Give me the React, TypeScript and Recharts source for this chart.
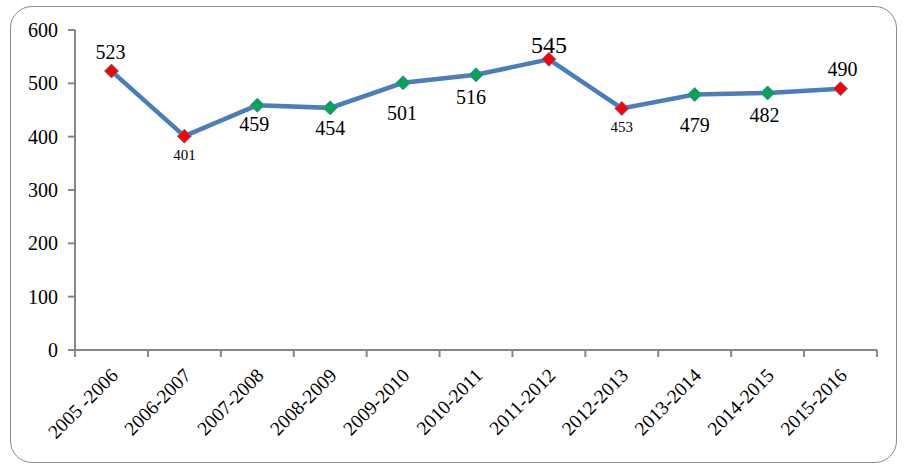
import React from "react";
import { LineChart, Line, XAxis, YAxis, LabelList } from "recharts";

// ─── Data ──────────────────────────────────────────────────────────────────────
const YEARS = [
  "2005 -2006",
  "2006-2007",
  "2007-2008",
  "2008-2009",
  "2009-2010",
  "2010-2011",
  "2011-2012",
  "2012-2013",
  "2013-2014",
  "2014-2015",
  "2015-2016",
];
const VALUES = [523, 401, 459, 454, 501, 516, 545, 453, 479, 482, 490];
// years drawn with a red marker, the rest are green
const FLAGGED = ["2005 -2006", "2006-2007", "2011-2012", "2012-2013", "2015-2016"];
const Y_TICKS = [0, 100, 200, 300, 400, 500, 600];

const data = YEARS.map((year, i) => ({ year, value: VALUES[i], idx: i }));
// tick marks sit between categories (Excel "between tick marks" style)
const boundaryTicks = YEARS.map((_, i) => i - 0.5).concat(YEARS.length - 0.5);

// ─── Styling ───────────────────────────────────────────────────────────────────
const FONT = "Liberation Serif";
const LINE_BLUE = "#4A7EBB";
const AXIS_GREY = "#868686";
const HALF_BAND = 36.5;

// label placement per point: dy from the point, dx, font size
const LABEL_STYLE = [
  { dy: -12, dx: -1, size: 20 },
  { dy: 24, dx: 0, size: 15 },
  { dy: 26, dx: -3, size: 20 },
  { dy: 27, dx: 0, size: 20 },
  { dy: 37, dx: -1, size: 20 },
  { dy: 29, dx: -5, size: 20 },
  { dy: -6, dx: 0, size: 24 },
  { dy: 24, dx: 0, size: 15 },
  { dy: 37, dx: 0, size: 20 },
  { dy: 29, dx: -3, size: 20 },
  { dy: -13, dx: 2, size: 20 },
];

const Diamond = (props: any) => {
  const { cx, cy, payload, index } = props;
  if (cx == null || cy == null) return null;
  const r = 7;
  const fill = FLAGGED.includes(payload.year) ? "#FF0000" : "#00A651";
  return (
    <polygon
      key={`d-${index}`}
      points={`${cx},${cy - r} ${cx + r},${cy} ${cx},${cy + r} ${cx - r},${cy}`}
      fill={fill}
      stroke={LINE_BLUE}
      strokeWidth={1}
    />
  );
};

const ValueLabel = (props: any) => {
  const { x, y, value, index } = props;
  const s = LABEL_STYLE[index];
  return (
    <text
      x={x + s.dx}
      y={y + s.dy}
      textAnchor="middle"
      fontFamily={FONT}
      fontSize={s.size}
      fill="#000"
    >
      {value}
    </text>
  );
};

const YearTick = (props: any) => {
  const { x, y, payload } = props;
  return (
    <g transform={`translate(${x - 2},${y + 8})`}>
      <text
        transform="rotate(-45)"
        textAnchor="end"
        dy="0.7em"
        fontFamily={FONT}
        fontSize={19.5}
        fill="#000"
      >
        {payload.value}
      </text>
    </g>
  );
};

const NoTick = () => <g />;

export default function App() {
  return (
    <div style={{ position: "absolute", left: 0, top: 0, width: 910, height: 469, background: "#fff" }}>
      <div
        style={{
          position: "absolute",
          left: 10,
          top: 6,
          width: 885,
          height: 455,
          border: "1.5px solid #8a8a8a",
          borderRadius: 22,
        }}
      />
      <LineChart
        width={910}
        height={469}
        data={data}
        margin={{ top: 30, right: 33, bottom: 18, left: 0 }}
        style={{ position: "absolute", left: 0, top: 0 }}
      >
        <XAxis
          xAxisId="bounds"
          type="number"
          dataKey="idx"
          domain={[0, YEARS.length - 1]}
          ticks={boundaryTicks}
          interval={0}
          padding={{ left: HALF_BAND, right: HALF_BAND }}
          height={1}
          tick={<NoTick />}
          tickSize={7}
          tickLine={{ stroke: AXIS_GREY, strokeWidth: 2 }}
          axisLine={{ stroke: AXIS_GREY, strokeWidth: 2 }}
        />
        <XAxis
          xAxisId="cat"
          dataKey="year"
          height={100}
          interval={0}
          padding={{ left: HALF_BAND, right: HALF_BAND }}
          axisLine={false}
          tickLine={false}
          tick={<YearTick />}
        />
        <YAxis
          domain={[0, 600]}
          ticks={Y_TICKS}
          width={75}
          tickSize={7}
          tickMargin={10}
          tick={{ fill: "#000", fontSize: 20, fontFamily: FONT }}
          tickLine={{ stroke: AXIS_GREY, strokeWidth: 2 }}
          axisLine={{ stroke: AXIS_GREY, strokeWidth: 2 }}
        />
        <Line
          xAxisId="cat"
          dataKey="value"
          stroke={LINE_BLUE}
          strokeWidth={4.5}
          dot={Diamond}
          activeDot={false}
          isAnimationActive={false}
        >
          <LabelList dataKey="value" content={ValueLabel} />
        </Line>
      </LineChart>
    </div>
  );
}
